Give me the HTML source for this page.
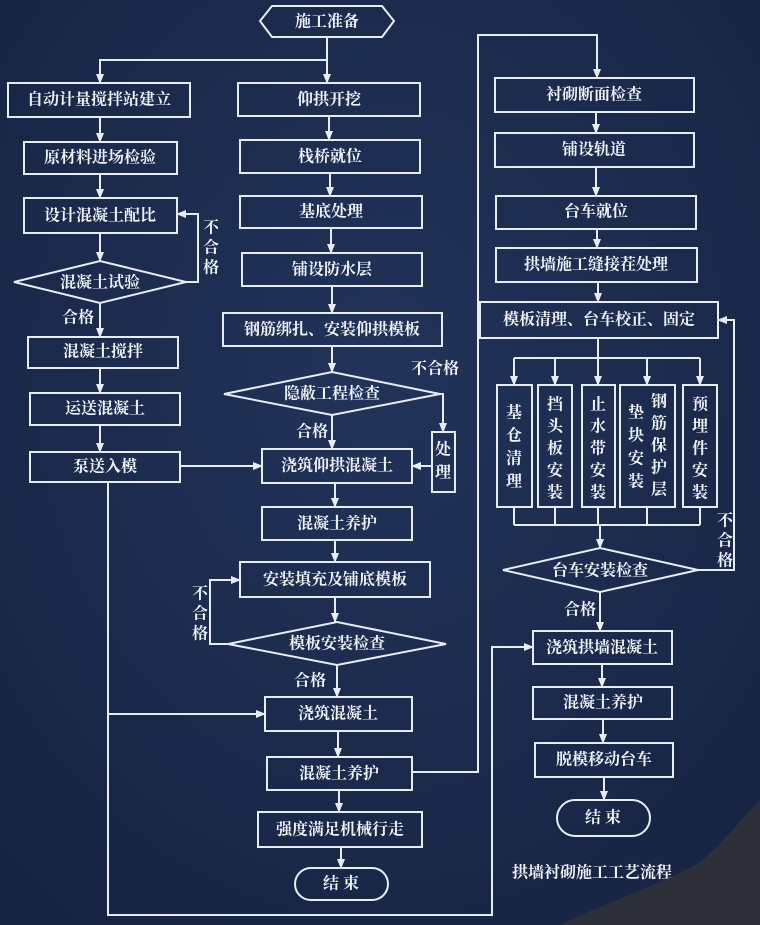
<!DOCTYPE html>
<html><head><meta charset="utf-8"><style>
html,body{margin:0;padding:0;background:#1b2a4b;}
svg{display:block}
text{font-family:"Liberation Serif","Noto Serif CJK SC","Noto Sans CJK SC",serif;font-weight:bold;fill:#eef2f8;font-size:16px;text-anchor:middle;dominant-baseline:central}
</style></head><body>
<svg width="760" height="925" viewBox="0 0 760 925" xmlns="http://www.w3.org/2000/svg">
<defs>
<radialGradient id="bg" cx="50%" cy="40%" r="75%"><stop offset="0" stop-color="#22335a"/><stop offset="1" stop-color="#162341"/></radialGradient>
<marker id="a" viewBox="0 0 10 10" refX="9" refY="5" markerWidth="5" markerHeight="5" orient="auto"><path d="M0,1 L10,5 L0,9 z" fill="#e8edf5"/></marker>
</defs>
<rect width="760" height="925" fill="url(#bg)"/>
<g fill="none" stroke="#e8edf5" stroke-width="2">
<polygon points="272,6 382,6 394,21 382,37 272,37 260,21"/>
<rect x="8" y="83" width="182" height="34"/>
<rect x="24" y="142" width="153" height="32"/>
<rect x="24" y="198" width="153" height="35"/>
<polygon points="14,282 100,261 186,282 100,303"/>
<rect x="28" y="337" width="150" height="31"/>
<rect x="30" y="393" width="150" height="32"/>
<rect x="30" y="452" width="150" height="30"/>
<rect x="238" y="83" width="182" height="33"/>
<rect x="240" y="140" width="180" height="33"/>
<rect x="240" y="196" width="182" height="32"/>
<rect x="242" y="253" width="180" height="33"/>
<rect x="223" y="313" width="219" height="33"/>
<polygon points="224,394 332,372 440,394 332,415"/>
<rect x="432" y="432" width="23" height="60"/>
<rect x="262" y="449" width="150" height="34"/>
<rect x="262" y="507" width="150" height="33"/>
<rect x="240" y="562" width="190" height="35"/>
<polygon points="228,644 337,622 446,644 337,665"/>
<rect x="265" y="697" width="147" height="34"/>
<rect x="267" y="757" width="145" height="33"/>
<rect x="258" y="812" width="164" height="35"/>
<rect x="295" y="868" width="93" height="32" rx="16"/>
<rect x="495" y="78" width="199" height="34"/>
<rect x="495" y="133" width="199" height="34"/>
<rect x="496" y="196" width="200" height="33"/>
<rect x="496" y="248" width="201" height="34"/>
<rect x="480" y="302" width="238" height="36"/>
<rect x="497" y="385" width="35" height="122"/>
<rect x="538" y="385" width="34" height="122"/>
<rect x="582" y="385" width="33" height="122"/>
<rect x="620" y="385" width="55" height="122"/>
<rect x="683" y="385" width="34" height="122"/>
<polygon points="503,570 600,548 698,570 600,592"/>
<rect x="533" y="631" width="139" height="33"/>
<rect x="533" y="687" width="139" height="32"/>
<rect x="535" y="743" width="138" height="34"/>
<rect x="557" y="800" width="93" height="36" rx="18"/>

<path d="M327,37 V83" marker-end="url(#a)"/>
<path d="M327,60 H100 V83" marker-end="url(#a)"/>
<path d="M100,117 V142" marker-end="url(#a)"/>
<path d="M100,174 V198" marker-end="url(#a)"/>
<path d="M100,233 V261" marker-end="url(#a)"/>
<path d="M186,282 H198 V214 H177" marker-end="url(#a)"/>
<path d="M100,303 V337" marker-end="url(#a)"/>
<path d="M100,368 V393" marker-end="url(#a)"/>
<path d="M100,425 V452" marker-end="url(#a)"/>
<path d="M180,466 H262" marker-end="url(#a)"/>
<path d="M108,482 V915 H492 V647 H533" marker-end="url(#a)"/>
<path d="M108,714 H265" marker-end="url(#a)"/>
<path d="M329,116 V140" marker-end="url(#a)"/>
<path d="M330,173 V196" marker-end="url(#a)"/>
<path d="M331,228 V253" marker-end="url(#a)"/>
<path d="M332,286 V313" marker-end="url(#a)"/>
<path d="M332,346 V372" marker-end="url(#a)"/>
<path d="M332,415 V449" marker-end="url(#a)"/>
<path d="M440,394 H443 V432" marker-end="url(#a)"/>
<path d="M432,466 H412" marker-end="url(#a)"/>
<path d="M335,483 V507" marker-end="url(#a)"/>
<path d="M335,540 V562" marker-end="url(#a)"/>
<path d="M335,597 V622" marker-end="url(#a)"/>
<path d="M228,644 H210 V580 H240" marker-end="url(#a)"/>
<path d="M337,665 V697" marker-end="url(#a)"/>
<path d="M338,731 V757" marker-end="url(#a)"/>
<path d="M412,772 H478 V35 H597 V78" marker-end="url(#a)"/>
<path d="M339,790 V812" marker-end="url(#a)"/>
<path d="M341,847 V868" marker-end="url(#a)"/>
<path d="M596,112 V133" marker-end="url(#a)"/>
<path d="M596,167 V196" marker-end="url(#a)"/>
<path d="M597,229 V248" marker-end="url(#a)"/>
<path d="M598,282 V302" marker-end="url(#a)"/>
<path d="M598,338 V358"/>
<path d="M514,358 H700"/>
<path d="M514,358 V385" marker-end="url(#a)"/>
<path d="M555,358 V385" marker-end="url(#a)"/>
<path d="M598,358 V385" marker-end="url(#a)"/>
<path d="M647,358 V385" marker-end="url(#a)"/>
<path d="M700,358 V385" marker-end="url(#a)"/>
<path d="M514,507 V525 M555,507 V525 M598,507 V525 M647,507 V525 M700,507 V525 M514,525 H700"/>
<path d="M600,525 V548" marker-end="url(#a)"/>
<path d="M698,570 H734 V320 H718" marker-end="url(#a)"/>
<path d="M600,592 V631" marker-end="url(#a)"/>
<path d="M602,664 V687" marker-end="url(#a)"/>
<path d="M603,719 V743" marker-end="url(#a)"/>
<path d="M604,777 V800" marker-end="url(#a)"/>
</g>

<text x="327" y="22">施工准备</text>
<text x="99" y="100">自动计量搅拌站建立</text>
<text x="100" y="158">原材料进场检验</text>
<text x="100" y="216">设计混凝土配比</text>
<text x="100" y="283" font-size="15">混凝土试验</text>
<text x="78" y="318" font-size="15">合格</text>
<text x="103" y="352">混凝土搅拌</text>
<text x="105" y="409">运送混凝土</text>
<text x="105" y="467">泵送入模</text>
<text x="211" y="228" font-size="15">不</text>
<text x="211" y="248" font-size="15">合</text>
<text x="211" y="268" font-size="15">格</text>
<text x="329" y="100">仰拱开挖</text>
<text x="330" y="157">栈桥就位</text>
<text x="331" y="212">基底处理</text>
<text x="332" y="270">铺设防水层</text>
<text x="332" y="330" font-size="15">钢筋绑扎、安装仰拱模板</text>
<text x="332" y="394" font-size="15">隐蔽工程检查</text>
<text x="435" y="369" font-size="15">不合格</text>
<text x="312" y="432" font-size="15">合格</text>
<text x="443" y="450">处</text>
<text x="443" y="473">理</text>
<text x="337" y="466">浇筑仰拱混凝土</text>
<text x="337" y="524">混凝土养护</text>
<text x="335" y="580">安装填充及铺底模板</text>
<text x="337" y="644" font-size="15">模板安装检查</text>
<text x="200" y="594" font-size="15">不</text>
<text x="200" y="614" font-size="15">合</text>
<text x="200" y="634" font-size="15">格</text>
<text x="310" y="681" font-size="15">合格</text>
<text x="338" y="714">浇筑混凝土</text>
<text x="339" y="774">混凝土养护</text>
<text x="340" y="830">强度满足机械行走</text>
<text x="341" y="884">结 束</text>
<text x="594" y="95">衬砌断面检查</text>
<text x="594" y="150">铺设轨道</text>
<text x="596" y="212">台车就位</text>
<text x="596" y="265">拱墙施工缝接茬处理</text>
<text x="599" y="320">模板清理、台车校正、固定</text>
<g font-size="15">
<text x="514" y="413">基</text><text x="514" y="436">仓</text><text x="514" y="459">清</text><text x="514" y="482">理</text>
<text x="555" y="405">挡</text><text x="555" y="427">头</text><text x="555" y="449">板</text><text x="555" y="471">安</text><text x="555" y="493">装</text>
<text x="598" y="405">止</text><text x="598" y="427">水</text><text x="598" y="449">带</text><text x="598" y="471">安</text><text x="598" y="493">装</text>
<text x="659" y="402">钢</text><text x="659" y="424">筋</text><text x="659" y="446">保</text><text x="659" y="468">护</text><text x="659" y="490">层</text>
<text x="636" y="413">垫</text><text x="636" y="436">块</text><text x="636" y="459">安</text><text x="636" y="482">装</text>
<text x="700" y="405">预</text><text x="700" y="427">埋</text><text x="700" y="449">件</text><text x="700" y="471">安</text><text x="700" y="493">装</text>
<text x="725" y="521">不</text><text x="725" y="541">合</text><text x="725" y="561">格</text>
</g>
<text x="600" y="571" font-size="15">台车安装检查</text>
<text x="580" y="610" font-size="15">合格</text>
<text x="602" y="648">浇筑拱墙混凝土</text>
<text x="603" y="703">混凝土养护</text>
<text x="604" y="760">脱模移动台车</text>
<text x="603" y="818">结 束</text>
<text x="512" y="873" font-size="14" style="text-anchor:start">拱墙衬砌施工工艺流程</text>
<path d="M760,800 C735,825 715,855 690,868 C650,888 600,905 560,925 L760,925 Z" fill="#2e3039"/>
</svg>
</body></html>
